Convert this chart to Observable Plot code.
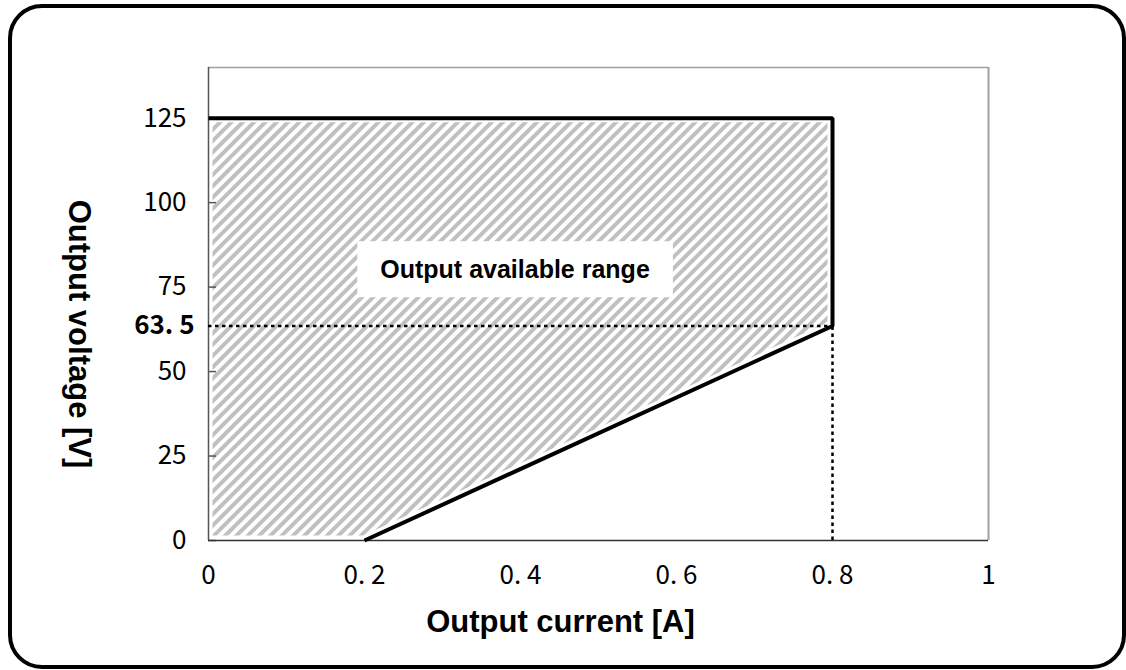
<!DOCTYPE html>
<html><head><meta charset="utf-8">
<script src="https://cdn.jsdelivr.net/npm/d3@7"></script>
<script src="https://cdn.jsdelivr.net/npm/@observablehq/plot@0.6"></script>
<style>body{margin:0;background:#fff} svg{display:block}</style>
</head><body><div id="chart"></div>
<script>
// ---- data ----
const boundaryCurrent = [0, 0.8, 0.8, 0.2];
const boundaryVoltage = [125, 125, 63.5, 0];
const lowerCurrent = [0, 0.2, 0.8];
const lowerVoltage = [0, 0, 63.5];
const maxVoltage = 125;
const ratedCurrent = 0.8;
const ratedVoltageAtMax = 63.5;
const xTicks = [0, 0.2, 0.4, 0.6, 0.8, 1];
const xTickLabels = ["0", "0. 2", "0. 4", "0. 6", "0. 8", "1"];
const yTicks = [0, 25, 50, 75, 100, 125];
const yTickLabels = ["0", "25", "50", "75", "100", "125"];
const markerLabel = "63. 5";
const regionLabel = "Output available range";
const regionLabelAt = [0.393, 80];
const xTitle = "Output current [A]";
const yTitle = "Output voltage [V]";

// ---- layout ----
const W = 1126, H = 670, mL = 208, mR = 138, mT = 67, mB = 130;
const innerW = W - mL - mR;
const numFont = '"Noto Sans CJK JP",sans-serif';
const boldFont = '"Liberation Sans",Arial,sans-serif';

const regionData = lowerCurrent.map((c, i) => ({c, lo: lowerVoltage[i], hi: maxVoltage}));
const boundary = boundaryCurrent.map((c, i) => ({c, v: boundaryVoltage[i]}));

const plot = Plot.plot({
  width: W, height: H,
  marginLeft: mL, marginRight: mR, marginTop: mT, marginBottom: mB,
  style: {fontFamily: numFont, fontSize: "26px", color: "#000", background: "#fff", overflow: "visible"},
  x: {domain: [0, 1]},
  y: {domain: [0, 140]},
  marks: [
    Plot.areaY(regionData, {x: "c", y1: "lo", y2: "hi", fill: "url(#hatch)", stroke: "white", strokeWidth: 9}),
    Plot.axisX({ticks: xTicks, tickFormat: d => xTickLabels[xTicks.indexOf(d)], tickSize: 0, tickPadding: 25, fontSize: 26, fill: "#000", label: null}),
    Plot.axisY({ticks: yTicks, tickFormat: d => yTickLabels[yTicks.indexOf(d)], tickSize: 0, tickPadding: 22, fontSize: 26, fill: "#000", label: null}),
    Plot.tickY(yTicks, {y: d => d, insetRight: innerW - 8, stroke: "#555", strokeWidth: 1.5}),
    Plot.ruleY([140], {stroke: "#a0a0a0", strokeWidth: 1.5}),
    Plot.ruleX([1], {stroke: "#a0a0a0", strokeWidth: 2}),
    Plot.ruleX([0], {stroke: "#555", strokeWidth: 1.5}),
    Plot.ruleY([0], {stroke: "#333", strokeWidth: 1.5}),
    Plot.ruleY([ratedVoltageAtMax], {x1: 0, x2: ratedCurrent, stroke: "#000", strokeWidth: 2.5, strokeDasharray: "3.5,3.5"}),
    Plot.ruleX([ratedCurrent], {y1: 0, y2: ratedVoltageAtMax, stroke: "#000", strokeWidth: 2.5, strokeDasharray: "3.5,3.5"}),
    Plot.line(boundary, {x: "c", y: "v", stroke: "#000", strokeWidth: 4, strokeLinejoin: "miter", strokeLinecap: "butt"}),
    Plot.text([markerLabel], {x: 0, y: ratedVoltageAtMax, text: d => d, textAnchor: "end", dx: -14, fontWeight: "bold", fontSize: 26, fill: "#000"}),
    Plot.text([regionLabel], {x: regionLabelAt[0], y: regionLabelAt[1], text: d => d, fontFamily: boldFont, fontWeight: "bold", fontSize: 25, fill: "#000"}),
    Plot.text([xTitle], {frameAnchor: "bottom", textAnchor: "middle", lineAnchor: "middle", dx: -38, dy: 82, text: d => d, fontFamily: boldFont, fontWeight: "bold", fontSize: 31, fill: "#000", letterSpacing: "0.5px"}),
    Plot.text([yTitle], {frameAnchor: "left", textAnchor: "middle", lineAnchor: "middle", rotate: 90, dx: -130, dy: 30, text: d => d, fontFamily: boldFont, fontWeight: "bold", fontSize: 31, fill: "#000", letterSpacing: "0.5px"})
  ]
});

document.getElementById("chart").appendChild(plot);
const svg = d3.select(plot);

// hatch pattern
const defs = svg.insert("defs", ":first-child");
const P = 8;
const pat = defs.append("pattern").attr("id", "hatch").attr("patternUnits", "userSpaceOnUse")
  .attr("width", P).attr("height", P).attr("patternTransform", "rotate(45)");
pat.append("rect").attr("width", P).attr("height", P).attr("fill", "#fff");
pat.append("line").attr("x1", P / 4).attr("y1", 0).attr("x2", P / 4).attr("y2", P)
  .attr("stroke", "#c0c0c0").attr("stroke-width", P / 2);

// white box behind region label
svg.selectAll("text").filter(function() { return this.textContent === regionLabel; }).each(function() {
  const bb = this.getBBox();
  const cy = bb.y + bb.height / 2;
  const r = document.createElementNS("http://www.w3.org/2000/svg", "rect");
  r.setAttribute("x", bb.x - 23);
  r.setAttribute("width", bb.width + 46);
  r.setAttribute("y", cy - 28);
  r.setAttribute("height", 56);
  r.setAttribute("fill", "#fff");
  if (this.getAttribute("transform")) r.setAttribute("transform", this.getAttribute("transform"));
  this.parentNode.insertBefore(r, this);
});

// rounded outer border
svg.append("rect").attr("x", 10).attr("y", 6).attr("width", 1114).attr("height", 661)
  .attr("rx", 32).attr("fill", "none").attr("stroke", "#000").attr("stroke-width", 4);
</script>
</body></html>
